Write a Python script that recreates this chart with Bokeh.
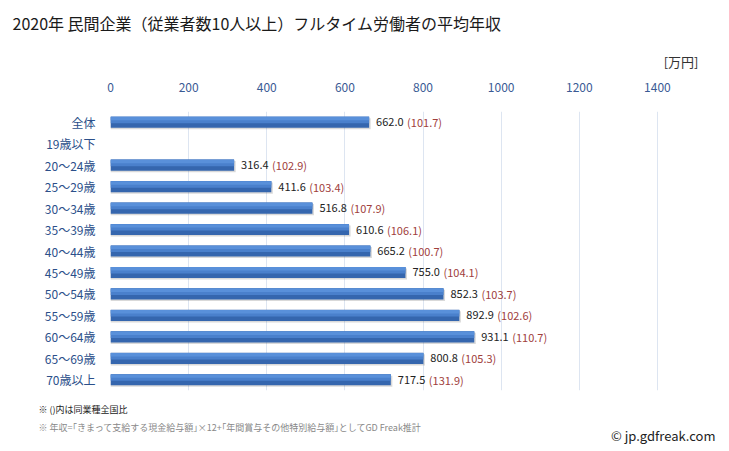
from bokeh.plotting import figure
from bokeh.models import ColumnDataSource, Title, FactorRange, Range1d, FixedTicker
from bokeh.transform import dodge
from bokeh.core.properties import value
from bokeh.embed import file_html
from bokeh.resources import INLINE

FONT = "Noto Sans CJK JP"

categories = ["全体", "19歳以下", "20～24歳", "25～29歳", "30～34歳", "35～39歳",
              "40～44歳", "45～49歳", "50～54歳", "55～59歳", "60～64歳", "65～69歳", "70歳以上"]
salaries = [662.0, None, 316.4, 411.6, 516.8, 610.6, 665.2, 755.0, 852.3, 892.9, 931.1, 800.8, 717.5]
ratios = [101.7, None, 102.9, 103.4, 107.9, 106.1, 100.7, 104.1, 103.7, 102.6, 110.7, 105.3, 131.9]
x_ticks = [0, 200, 400, 600, 800, 1000, 1200, 1400]

title_text = "2020年 民間企業（従業者数10人以上）フルタイム労働者の平均年収"
unit_text = "[万円]"
note1 = "※ ()内は同業種全国比"
note2 = "※ 年収=｢きまって支給する現金給与額｣×12+｢年間賞与その他特別給与額｣としてGD Freak推計"
credit = "© jp.gdfreak.com"

cats_v = [c for c, s in zip(categories, salaries) if s is not None]
sal_v = [s for s in salaries if s is not None]
rat_v = [r for r, s in zip(ratios, salaries) if s is not None]
src = ColumnDataSource(dict(
    cat=cats_v,
    val=sal_v,
    shadow=[s + 4 for s in sal_v],
    vtxt=[f"{s:.1f}" for s in sal_v],
    rtxt=[f"({r:.1f})" for r in rat_v],
))

W, H = 729, 451
FL, FR, FT, FB = 110, 696, 111, 390  # frame edges in canvas pixels
XMAX = 1500

p = figure(width=W, height=H, output_backend="svg", toolbar_location=None,
           title_location=None,
           y_range=FactorRange(*reversed(categories)),
           x_range=Range1d(0, XMAX), x_axis_location="above",
           min_border_left=FL, min_border_right=W - FR, min_border_top=FT, min_border_bottom=H - FB)
p.outline_line_color = None
p.background_fill_color = "white"
p.border_fill_color = "white"

# shadow
p.hbar(y=dodge("cat", -0.07, range=p.y_range), left=0, right="shadow", height=0.52,
       source=src, fill_color="#000000", fill_alpha=0.15, line_color=None)
# main bar
p.hbar(y="cat", left=0, right="val", height=0.52, source=src,
       fill_color="#3566ae", line_color=None)
# highlight for gradient look
p.hbar(y=dodge("cat", 0.1, range=p.y_range), left=0, right="val", height=0.3, source=src,
       fill_color="#4a80cc", line_color=None)
p.hbar(y=dodge("cat", 0.17, range=p.y_range), left=0, right="val", height=0.16, source=src,
       fill_color="#5990da", line_color=None)

p.text(x="val", y="cat", text="vtxt", source=src, x_offset=7,
       text_baseline="middle", text_font=value(FONT), text_font_size="11px", text_color="#222222")
p.text(x="val", y="cat", text="rtxt", source=src, x_offset=38,
       text_baseline="middle", text_font=value(FONT), text_font_size="11px", text_color="#a0403c")

xa = p.xaxis[0]
xa.ticker = FixedTicker(ticks=x_ticks)
xa.axis_line_color = None
xa.major_tick_line_color = None
xa.minor_tick_line_color = None
xa.major_label_text_font = FONT
xa.major_label_text_font_size = "12px"
xa.major_label_text_color = "#3a5a94"
xa.major_label_standoff = 14

ya = p.yaxis[0]
ya.axis_line_color = None
ya.major_tick_line_color = None
ya.minor_tick_line_color = None
ya.major_label_text_font = FONT
ya.major_label_text_font_size = "12px"
ya.major_label_text_color = "#2b4f8a"
ya.major_label_standoff = 9

p.xgrid.ticker = FixedTicker(ticks=x_ticks)
p.xgrid.grid_line_color = "#dde5f1"
p.ygrid.grid_line_color = None

def ttl(text, side, size, color, align, offset, standoff, valign="bottom"):
    p.add_layout(Title(text=text, text_font=FONT, text_font_size=size, text_color=color,
                       text_font_style="normal", align=align, offset=offset,
                       standoff=standoff, vertical_align=valign), side)

ttl(unit_text, "above", "13px", "#333333", "right", -2, 17)
ttl(title_text, "above", "16px", "#1a1a1a", "left", 12 - FL, 14)
ttl(note1, "below", "9px", "#222222", "left", 38 - FL, 22, "middle")
ttl(note2, "below", "9px", "#888888", "left", 38 - FL, -15, "middle")
ttl(credit, "below", "13px", "#222222", "right", -19, -6, "middle")

open("out.html", "w").write(file_html(p, INLINE))
